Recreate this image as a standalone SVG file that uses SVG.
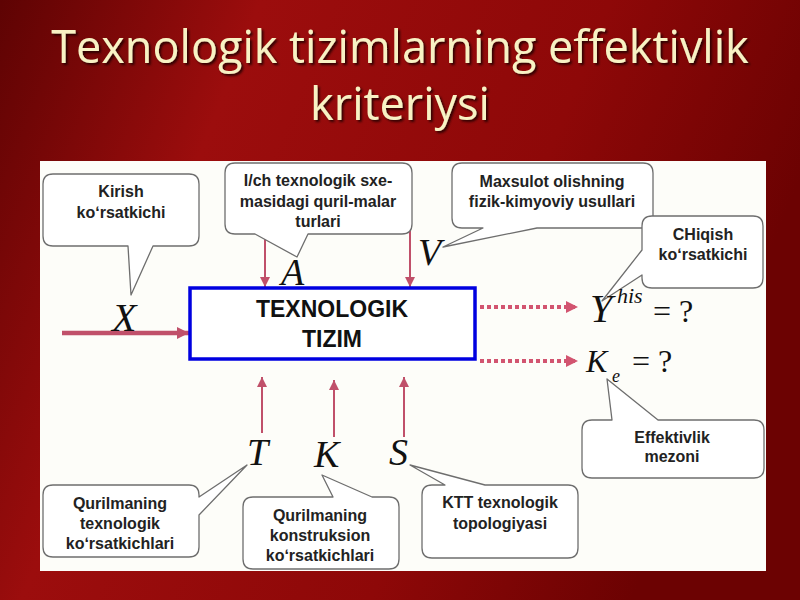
<svg xmlns="http://www.w3.org/2000/svg" width="800" height="600" viewBox="0 0 800 600">
<defs>
<linearGradient id="bg" x1="0" y1="0" x2="1" y2="0.3">
<stop offset="0" stop-color="#5e0303"/>
<stop offset="0.3" stop-color="#9c0d0d"/>
<stop offset="0.7" stop-color="#8e0808"/>
<stop offset="1" stop-color="#6c0202"/>
</linearGradient>
<filter id="sh" x="-5%" y="-20%" width="110%" height="140%">
<feDropShadow dx="2" dy="2" stdDeviation="1" flood-color="#1a0000" flood-opacity="0.85"/>
</filter>
<marker id="ah" markerUnits="userSpaceOnUse" markerWidth="12" markerHeight="10" refX="10" refY="5" orient="auto">
<path d="M0,0 L10,5 L0,10 Z" fill="#c0506a"/>
</marker>
<marker id="ahb" markerUnits="userSpaceOnUse" markerWidth="14" markerHeight="14" refX="12" refY="7" orient="auto">
<path d="M0,1 L12,7 L0,13 Z" fill="#c0506a"/>
</marker>
<marker id="ahd" markerUnits="userSpaceOnUse" markerWidth="14" markerHeight="14" refX="12" refY="7" orient="auto">
<path d="M0,1 L12,7 L0,13 Z" fill="#d25470"/>
</marker>
</defs>
<style>
.title{font-family:"Open Sans","Noto Sans",sans-serif;font-size:45px;text-anchor:middle;fill:#f8f2c4}
.co{fill:#ffffff;stroke:#6e6e6e;stroke-width:1.3;stroke-linejoin:round}
.ct{font-family:"Liberation Sans",Arial,sans-serif;font-weight:bold;font-size:16px;fill:#222;text-anchor:middle}
.bt{font-family:"Liberation Sans",Arial,sans-serif;font-weight:bold;font-size:23px;fill:#111;text-anchor:middle}
.m{font-family:"Liberation Serif","Times New Roman",serif;font-style:italic;fill:#111}
.mr{font-family:"Liberation Serif","Times New Roman",serif;fill:#111}
.arr{stroke:#c0506a;stroke-width:2;fill:none}
.dot{stroke:#d25470;stroke-width:4;stroke-dasharray:4 3;fill:none}
</style>
<rect x="0" y="0" width="800" height="600" fill="url(#bg)"/>
<g id="title" filter="url(#sh)">
<text class="title" x="400" y="63">Texnologik tizimlarning effektivlik</text>
<text class="title" x="400" y="120">kriteriysi</text>
</g>
<rect x="40" y="161" width="726" height="410" fill="#fdfdf9"/>
<g id="connectors">
<line x1="62" y1="333" x2="189" y2="333" stroke="#c0506a" stroke-width="4.5" marker-end="url(#ahb)"/>
<line class="arr" x1="265" y1="230" x2="265" y2="287" marker-end="url(#ah)"/>
<line class="arr" x1="410" y1="230" x2="410" y2="287" marker-end="url(#ah)"/>
<line class="arr" x1="262" y1="433" x2="262" y2="377" marker-end="url(#ah)"/>
<line class="arr" x1="334" y1="437" x2="334" y2="380" marker-end="url(#ah)"/>
<line class="arr" x1="404" y1="437" x2="404" y2="377" marker-end="url(#ah)"/>
<line class="dot" x1="480" y1="307" x2="578" y2="307" marker-end="url(#ahd)"/>
<line class="dot" x1="480" y1="361" x2="578" y2="361" marker-end="url(#ahd)"/>
</g>
<g id="system">
<rect x="190" y="288" width="285" height="71" fill="#ffffff" stroke="#0000e0" stroke-width="3.5"/>
<text class="bt" x="332" y="317">TEXNOLOGIK</text>
<text class="bt" x="332" y="347">TIZIM</text>
</g>
<g id="kirish">
<path class="co" d="M53,174 H189 Q199,174 199,184 V236 Q199,246 189,246 H153 L131,295 L128,246 H53 Q43,246 43,236 V184 Q43,174 53,174 Z"/>
<text class="ct" x="121" y="197">Kirish</text>
<text class="ct" x="121" y="218">koʻrsatkichi</text>
</g>
<g id="ich">
<path class="co" d="M235,163 H402 Q412,163 412,173 V224 Q412,234 402,234 H308 L297,257 L255,234 H235 Q225,234 225,224 V173 Q225,163 235,163 Z"/>
<text class="ct" x="318" y="186">I/ch texnologik sxe-</text>
<text class="ct" x="318" y="207">masidagi quril-malar</text>
<text class="ct" x="318" y="227">turlari</text>
</g>
<g id="maxsulot">
<path class="co" d="M462,163 H643 Q653,163 653,173 V218 Q653,228 643,228 H537 L443,247 L483,228 H462 Q452,228 452,218 V173 Q452,163 462,163 Z"/>
<text class="ct" x="552" y="187">Maxsulot olishning</text>
<text class="ct" x="552" y="207">fizik-kimyoviy usullari</text>
</g>
<g id="chiqish">
<path class="co" d="M652,216 H753 Q763,216 763,226 V278 Q763,288 753,288 H652 Q642,288 642,278 V275 L602,301 L642,250 V226 Q642,216 652,216 Z"/>
<text class="ct" x="703" y="240">CHiqish</text>
<text class="ct" x="703" y="260">koʻrsatkichi</text>
</g>
<g id="texnologik">
<path class="co" d="M53,485 H189 Q199,485 199,495 V497 L247,465 L199,515 V547 Q199,557 189,557 H53 Q43,557 43,547 V495 Q43,485 53,485 Z"/>
<text class="ct" x="120" y="509">Qurilmaning</text>
<text class="ct" x="120" y="529">texnologik</text>
<text class="ct" x="120" y="549">koʻrsatkichlari</text>
</g>
<g id="konstruksion">
<path class="co" d="M253,497 H333 L322,475 L372,497 H389 Q399,497 399,507 V559 Q399,569 389,569 H253 Q243,569 243,559 V507 Q243,497 253,497 Z"/>
<text class="ct" x="320" y="521">Qurilmaning</text>
<text class="ct" x="320" y="541">konstruksion</text>
<text class="ct" x="320" y="561">koʻrsatkichlari</text>
</g>
<g id="ktt">
<path class="co" d="M432,485 H445 L410,465 L485,485 H568 Q578,485 578,495 V548 Q578,558 568,558 H432 Q422,558 422,548 V495 Q422,485 432,485 Z"/>
<text class="ct" x="500" y="508">KTT texnologik</text>
<text class="ct" x="500" y="529">topologiyasi</text>
</g>
<g id="mezon">
<path class="co" d="M592,420 H612 L607,379 L658,420 H754 Q764,420 764,430 V468 Q764,478 754,478 H592 Q582,478 582,468 V430 Q582,420 592,420 Z"/>
<text class="ct" x="672" y="443">Effektivlik</text>
<text class="ct" x="672" y="462">mezoni</text>
</g>
<g id="symbols">
<text class="m" x="112" y="331" font-size="40">X</text>
<text class="m" x="281" y="285" font-size="38">A</text>
<text class="m" x="418" y="265" font-size="38">V</text>
<text class="m" x="247" y="465" font-size="38">T</text>
<text class="m" x="314" y="467" font-size="38">K</text>
<text class="m" x="389" y="465" font-size="38">S</text>
<text class="m" x="590" y="322" font-size="40">Y</text>
<text class="m" x="617" y="303" font-size="22">his</text>
<text class="mr" x="653" y="322" font-size="32">= ?</text>
<text class="m" x="586" y="372" font-size="32">K</text>
<text class="m" x="612" y="382" font-size="18">e</text>
<text class="mr" x="632" y="372" font-size="32">= ?</text>
</g>
</svg>
